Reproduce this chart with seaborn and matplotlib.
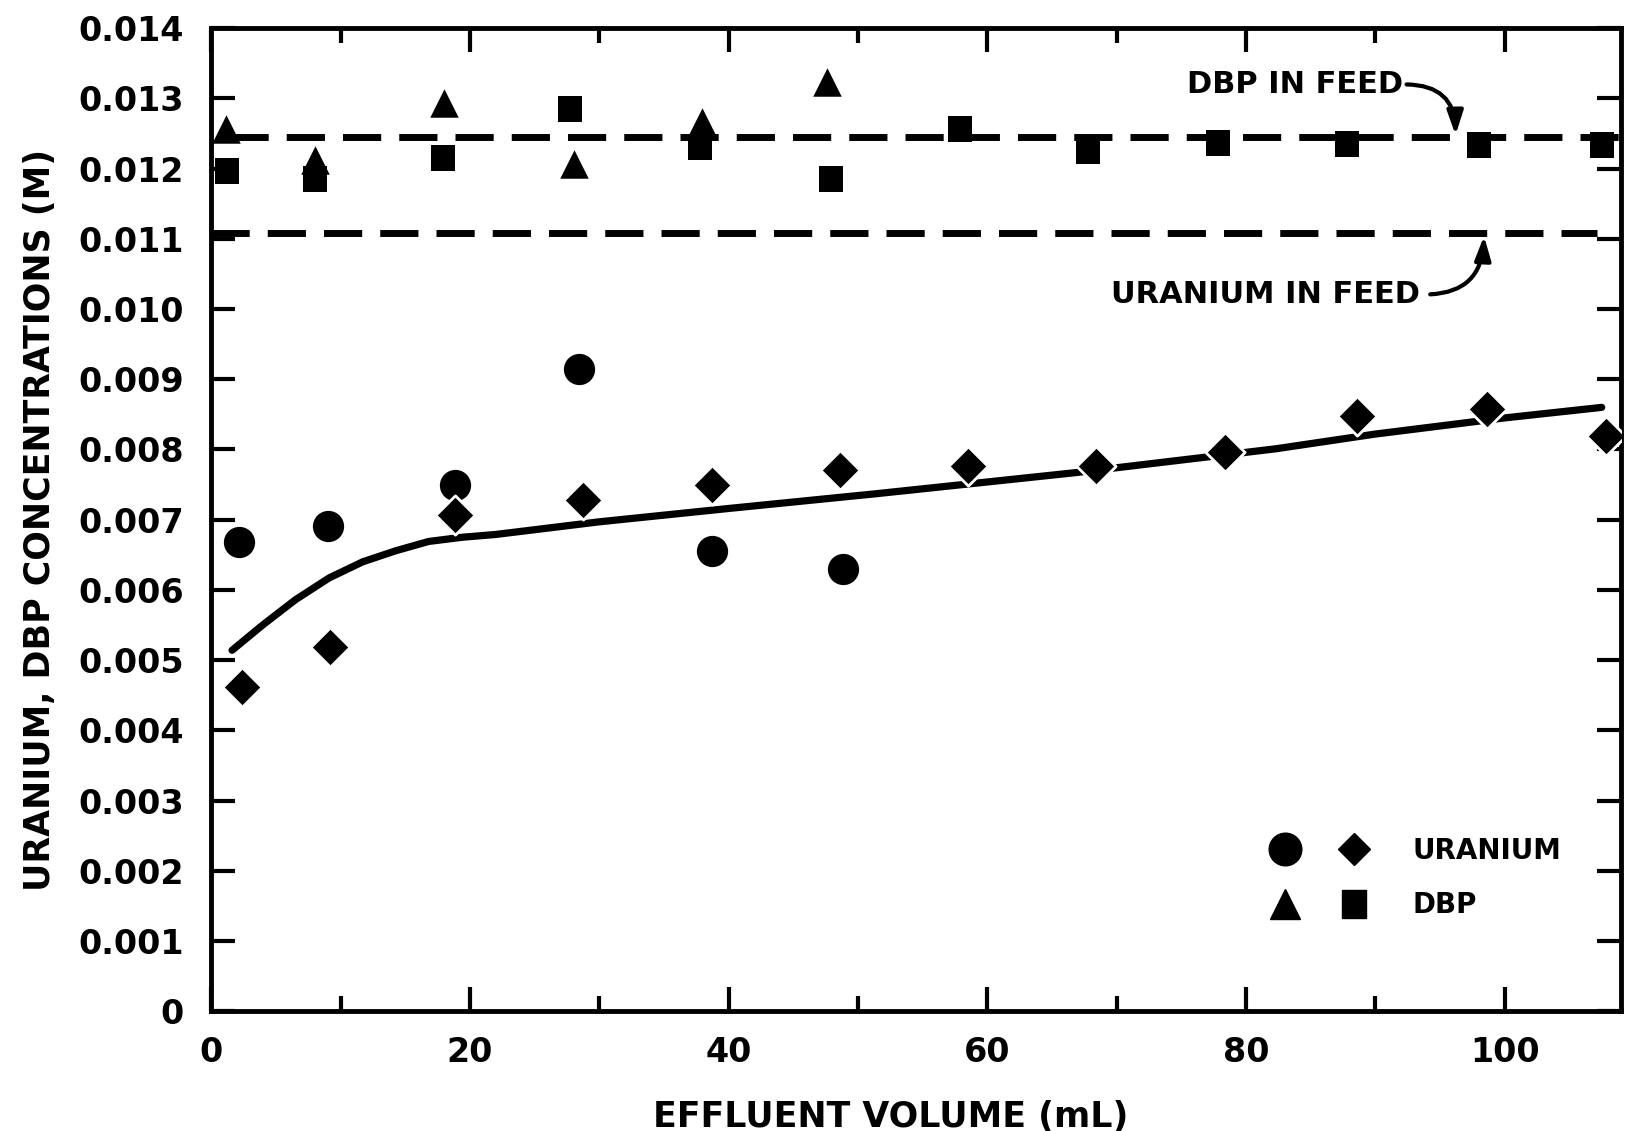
import matplotlib
matplotlib.use("Agg")
import matplotlib.pyplot as plt
import seaborn as sns
import pandas as pd
from matplotlib.lines import Line2D
from matplotlib.legend_handler import HandlerTuple

# ---- data ----
dbp_tri_x = [1.1, 8.0, 18.0, 28.0, 37.9, 47.6]
dbp_tri_y = [0.01257, 0.01213, 0.01294, 0.01206, 0.01266, 0.01324]

dbp_sq_x = [1.2, 8.0, 17.9, 27.7, 37.8, 47.9, 57.9, 67.8, 77.8, 87.8, 98.0, 107.5]
dbp_sq_y = [0.01196, 0.01186, 0.01215, 0.01285, 0.01231, 0.01185, 0.01256, 0.01225,
            0.01237, 0.01235, 0.01234, 0.01234]

u_circ_x = [2.1, 9.0, 18.8, 28.4, 38.7, 48.8]
u_circ_y = [0.00668, 0.00691, 0.00750, 0.00915, 0.00656, 0.00630]

u_dia_x = [2.4, 9.2, 18.8, 28.7, 38.7, 48.6, 58.5, 68.4, 78.4, 88.6, 98.6, 107.8]
u_dia_y = [0.00461, 0.00519, 0.00707, 0.00728, 0.00749, 0.00771, 0.00777, 0.00776,
           0.00796, 0.00848, 0.00858, 0.00819]

fit_x = [1.6, 3.9, 6.5, 9.1, 11.7, 14.3, 16.8, 19.4, 22.0, 30, 40, 51.4, 66.8, 82.3,
         90, 100, 107.5]
fit_y = [0.00514, 0.00549, 0.00586, 0.00617, 0.00640, 0.00656, 0.00669, 0.00675,
         0.00679, 0.00697, 0.00716, 0.00737, 0.00767, 0.00801, 0.00822, 0.00845, 0.00860]

dbp_feed = 0.01245
u_feed = 0.01108

x_ticks = [0, 20, 40, 60, 80, 100]
x_minor = [10, 30, 50, 70, 90]
y_ticks = [0.000, 0.001, 0.002, 0.003, 0.004, 0.005, 0.006, 0.007,
           0.008, 0.009, 0.010, 0.011, 0.012, 0.013, 0.014]
y_labels = ["0", "0.001", "0.002", "0.003", "0.004", "0.005", "0.006", "0.007",
            "0.008", "0.009", "0.010", "0.011", "0.012", "0.013", "0.014"]

# ---- style ----
sns.set_theme(style="ticks")
plt.rcParams['font.family'] = ['DejaVu Sans']
plt.rcParams['font.weight'] = 'bold'
plt.rcParams['axes.labelweight'] = 'bold'
plt.rcParams['text.color'] = 'black'
plt.rcParams['axes.labelcolor'] = 'black'
plt.rcParams['xtick.color'] = 'black'
plt.rcParams['ytick.color'] = 'black'

fig = plt.figure(figsize=(16.26, 11.31), dpi=100)
ax = fig.add_axes([0.130, 0.106, 0.867, 0.869])

# slightly tall rectangle marker for DBP squares
rect = [(-0.44, -0.5), (0.44, -0.5), (0.44, 0.5), (-0.44, 0.5), (-0.44, -0.5)]

ms_c, ms_t, ms_s, ms_d = 22.5, 20.5, 19.0, 20.0

df_sq = pd.DataFrame({"x": dbp_sq_x, "y": dbp_sq_y})
df_tri = pd.DataFrame({"x": dbp_tri_x, "y": dbp_tri_y})
df_c = pd.DataFrame({"x": u_circ_x, "y": u_circ_y})
df_d = pd.DataFrame({"x": u_dia_x, "y": u_dia_y})
df_fit = pd.DataFrame({"x": fit_x, "y": fit_y})

# feed lines
ax.axhline(dbp_feed, xmin=0.013, xmax=1.0, color="black", lw=5.0, dashes=(5.5, 2.6), zorder=1)
ax.axhline(u_feed, xmin=0.0, xmax=0.983, color="black", lw=5.0, dashes=(5.5, 2.6), zorder=1)

sns.lineplot(data=df_fit, x="x", y="y", color="black", lw=5.2, ax=ax, sort=False, zorder=2)

sns.scatterplot(data=df_sq, x="x", y="y", marker=rect, s=ms_s ** 2, color="black",
                edgecolor="black", linewidth=0, ax=ax, zorder=3)
sns.scatterplot(data=df_tri, x="x", y="y", marker="^", s=ms_t ** 2, color="black",
                edgecolor="black", linewidth=0, ax=ax, zorder=4)
sns.scatterplot(data=df_c, x="x", y="y", marker="o", s=ms_c ** 2, color="black",
                edgecolor="black", linewidth=0, ax=ax, zorder=4)
sns.scatterplot(data=df_d, x="x", y="y", marker="D", s=ms_d ** 2, color="black",
                edgecolor="white", linewidth=2.0, ax=ax, zorder=4)

ax.set_xlim(0, 109.0)
ax.set_ylim(0, 0.014)

# ticks
ax.set_xticks(x_ticks)
ax.set_xticks(x_minor, minor=True)
ax.set_xticklabels([str(v) for v in x_ticks])
ax.set_yticks(y_ticks)
ax.set_yticklabels(y_labels)
ax.tick_params(axis="both", which="major", direction="in", width=3,
               labelsize=24, colors="black")
ax.tick_params(axis="x", which="major", top=True, bottom=True, pad=18, length=17)
ax.tick_params(axis="x", which="minor", top=True, bottom=True, direction="in", length=11, width=3)
ax.tick_params(axis="y", which="major", left=True, right=True, pad=20, length=17)
for lab in ax.get_xticklabels() + ax.get_yticklabels():
    lab.set_fontweight("bold")
    lab.set_color("black")

for sp in ax.spines.values():
    sp.set_linewidth(3.5)
    sp.set_color("black")

ax.set_xlabel("EFFLUENT VOLUME (mL)", fontsize=25, fontweight="bold", color="black")
ax.set_ylabel("URANIUM, DBP CONCENTRATIONS (M)", fontsize=25, fontweight="bold",
              color="black", labelpad=15)
ax.xaxis.set_label_coords(0.4816, -0.090)

# annotations
ax.annotate("DBP IN FEED", xy=(96.2, dbp_feed + 0.00003), xytext=(83.8, 0.01320),
            ha="center", va="center", fontsize=22, fontweight="bold", color="black",
            arrowprops=dict(arrowstyle="-|>,head_length=0.65,head_width=0.22", color="black",
                            lw=3, shrinkA=0, shrinkB=0, connectionstyle="arc3,rad=-0.5",
                            relpos=(1.0, 0.5)))
ax.annotate("URANIUM IN FEED", xy=(98.4, u_feed - 0.00004), xytext=(81.5, 0.01021),
            ha="center", va="center", fontsize=22, fontweight="bold", color="black",
            arrowprops=dict(arrowstyle="-|>,head_length=0.65,head_width=0.22", color="black",
                            lw=3, shrinkA=5, shrinkB=0, connectionstyle="arc3,rad=0.5",
                            relpos=(1.0, 0.5)))

# legend
h_u = (Line2D([], [], marker="o", ls="", color="black", markersize=23.5),
       Line2D([], [], marker="D", ls="", color="black", markersize=16))
h_d = (Line2D([], [], marker="^", ls="", color="black", markersize=21),
       Line2D([], [], marker=rect, ls="", color="black", markersize=20))
leg = ax.legend([h_u, h_d], ["URANIUM", "DBP"],
                handler_map={tuple: HandlerTuple(ndivide=None, pad=1.04)},
                loc="upper left", bbox_to_anchor=(0.778, 0.260), bbox_transform=fig.transFigure,
                frameon=False, fontsize=20, handlelength=3.92, handletextpad=1.4,
                labelspacing=0.95, borderpad=0, borderaxespad=0)
for t in leg.get_texts():
    t.set_fontweight("bold")
    t.set_color("black")

fig.savefig("out.png", dpi=100, facecolor="white")
